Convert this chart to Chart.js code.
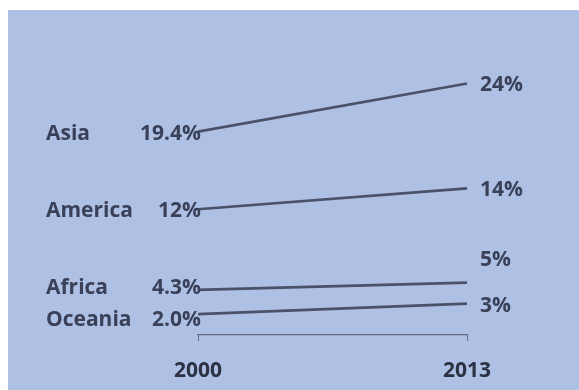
<!DOCTYPE html>
<html>
<head>
<meta charset="utf-8">
<script src="https://cdn.jsdelivr.net/npm/chart.js@4"></script>
<style>
  html, body { margin: 0; padding: 0; background: #ffffff; }
  #wrap {
    position: absolute;
    left: 8px; top: 10px;
    width: 571px; height: 380px;
    background: #aec1e5;
  }
</style>
</head>
<body>
<div id="wrap"><canvas id="chart"></canvas></div>
<script>
const years = ['2000', '2013'];
const regions = ['Asia', 'America', 'Africa', 'Oceania'];
const asia = [19.4, 24];
const america = [12, 14];
const africa = [4.3, 5];
const oceania = [2.0, 3];
const startLabels = ['19.4%', '12%', '4.3%', '2.0%'];
const endLabels = ['24%', '14%', '5%', '3%'];

const inkColor = '#394057';
const lineColor = '#4a5168';
const labelFont = 'bold 21px "Open Sans", sans-serif';

// draws region names and the value at each end of every line
const slopeLabels = {
    id: 'slopeLabels',
    afterDatasetsDraw(chart) {
        const ctx = chart.ctx;
        ctx.save();
        ctx.font = labelFont;
        ctx.fillStyle = inkColor;
        ctx.textBaseline = 'middle';

        const left = [];
        const right = [];
        chart.data.datasets.forEach((ds, i) => {
            const pts = chart.getDatasetMeta(i).data;
            left.push({ x: pts[0].x, y: pts[0].y + 2, i });
            right.push({ x: pts[1].x, y: pts[1].y + 2, i });
        });

        // spread close labels on the left evenly, push the upper one up on the right
        for (let k = 1; k < left.length; k++) {
            const gap = left[k].y - left[k - 1].y;
            if (gap < 32) {
                const half = (32 - gap) / 2;
                left[k - 1].y -= half;
                left[k].y += half;
            }
        }
        for (let k = right.length - 2; k >= 0; k--) {
            if (right[k + 1].y - right[k].y < 44) right[k].y = right[k + 1].y - 46;
        }

        left.forEach(p => {
            ctx.textAlign = 'right';
            ctx.fillText(startLabels[p.i], p.x + 3, p.y);
            ctx.textAlign = 'left';
            ctx.fillText(regions[p.i], 38, p.y);
        });
        right.forEach(p => {
            ctx.textAlign = 'left';
            ctx.fillText(endLabels[p.i], p.x + 13, p.y);
        });
        ctx.restore();
    }
};

const seriesList = [asia, america, africa, oceania];

new Chart(document.getElementById('chart'), {
    type: 'line',
    data: {
        labels: years,
        datasets: seriesList.map((values, i) => ({
            label: regions[i],
            data: values,
            borderColor: lineColor,
            borderWidth: 2.7,
            pointRadius: 0,
            tension: 0
        }))
    },
    options: {
        responsive: true,
        maintainAspectRatio: false,
        animation: false,
        layout: {
            padding: { left: 190, right: 112, top: 63, bottom: 0 }
        },
        plugins: {
            legend: { display: false },
            tooltip: { enabled: false }
        },
        scales: {
            x: {
                offset: false,
                border: { display: true, color: '#646b80', width: 1.2 },
                grid: {
                    display: true,
                    drawOnChartArea: false,
                    drawTicks: true,
                    tickLength: 6,
                    color: '#646b80'
                },
                ticks: {
                    color: '#2c3144',
                    font: { family: '"Open Sans", sans-serif', size: 21, weight: '700' },
                    padding: 17
                },
                afterFit(scale) {
                    scale.height = 55;
                }
            },
            y: {
                display: false,
                min: 0,
                max: 25
            }
        }
    },
    plugins: [slopeLabels]
});
</script>
</body>
</html>
